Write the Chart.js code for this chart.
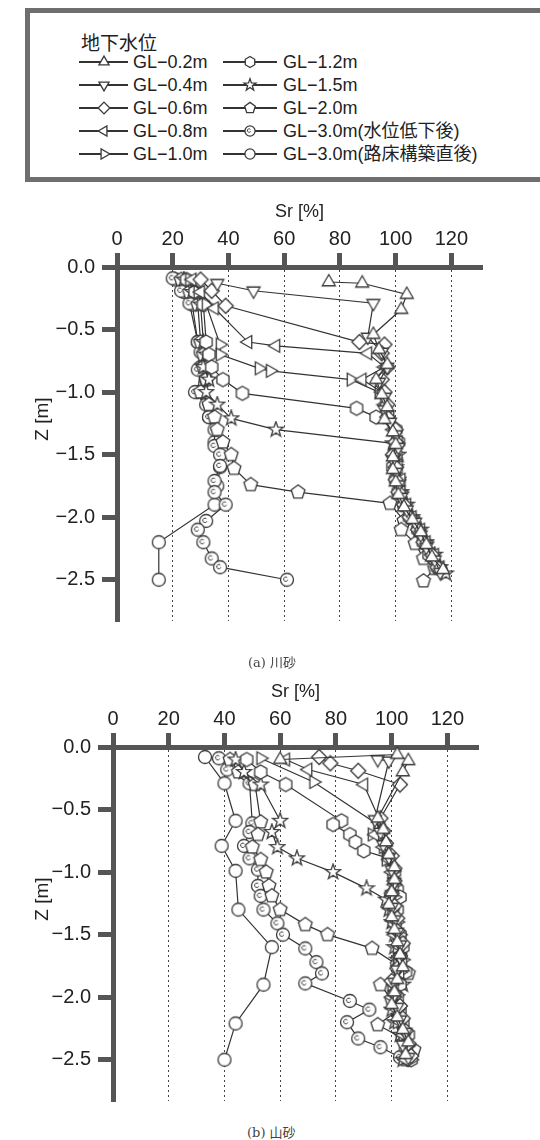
<!DOCTYPE html>
<html>
<head>
<meta charset="utf-8">
<script src="https://cdn.jsdelivr.net/npm/chart.js@4.4.1/dist/chart.umd.min.js"></script>
<style>
  body { margin: 0; width: 540px; height: 1140px; position: relative; overflow: hidden; background: #fff;
         font-family: "Liberation Sans", Arial, "Noto Sans CJK JP", sans-serif; color: #222; }
  #legend { position: absolute; left: 25px; top: 8px; width: 530px; height: 174px; box-sizing: border-box;
            border: 5px solid #6e6e6e; }
  .abs { position: absolute; white-space: nowrap; }
  .ltitle { font-size: 19px; }
  .ltext { font-size: 18px; line-height: 20px; }
  .lline { position: absolute; height: 1.4px; background: #333; }
  .ztitle { font-size: 19px; transform: rotate(-90deg); transform-origin: center; }
  .cap { font-size: 13px; color: #444; font-family: "DejaVu Serif", "Noto Sans CJK JP", serif; }
  canvas { position: absolute; left: 0; }
</style>
</head>
<body>
<div id="legend"></div>
<canvas id="kawa" width="540" height="455" style="top:185px"></canvas>
<canvas id="yama" width="540" height="455" style="top:665px"></canvas>
<div class="abs ztitle" style="left:20px; top:408px;">Z [m]</div>
<div class="abs ztitle" style="left:20px; top:888px;">Z [m]</div>
<div class="abs cap" style="left:248px; top:652px;">(a) 川砂</div>
<div class="abs cap" style="left:247px; top:1122px;">(b) 山砂</div>
<script>
// ground water levels (legend order)
const levels = ['GL−0.2m', 'GL−0.4m', 'GL−0.6m', 'GL−0.8m', 'GL−1.0m',
                'GL−1.2m', 'GL−1.5m', 'GL−2.0m', 'GL−3.0m(水位低下後)', 'GL−3.0m(路床構築直後)'];
const shapes = ['triUp', 'triDown', 'diamond', 'triLeft', 'triRight',
                'hexagon', 'star', 'pentagon', 'dotCircle', 'circle'];
const srTicks = [0, 20, 40, 60, 80, 100, 120];
const zTicks = [0, -0.5, -1.0, -1.5, -2.0, -2.5];

// (a) river sand : depth Z [m] and degree of saturation Sr [%]
const a02z = [-0.12, -0.13, -0.22, -0.34, -0.54, -0.66, -0.78, -0.90, -1.02, -1.12, -1.22, -1.32, -1.42, -1.52, -1.62, -1.72, -1.82, -1.92, -2.02, -2.12, -2.22, -2.32, -2.42];
const a02s = [76, 88, 104, 102, 92, 94, 97, 93, 95, 97, 96, 99, 100, 99, 99, 100, 101, 103, 106, 109, 111, 113, 117];
const a04z = [-0.13, -0.19, -0.29, -0.56, -0.68, -0.80, -0.92, -1.04, -1.14, -1.24, -1.34, -1.44, -1.54, -1.64, -1.74, -1.84, -1.94, -2.04, -2.14, -2.24, -2.34, -2.44];
const a04s = [36, 49, 92, 90, 95, 97, 94, 96, 96, 98, 100, 101, 99, 100, 101, 102, 104, 107, 109, 111, 114, 116];
const a06z = [-0.10, -0.19, -0.31, -0.60, -0.62, -0.69, -0.80, -0.90, -1.00, -1.10, -1.20, -1.30, -1.40, -1.50, -1.60, -1.70, -1.80, -1.90, -2.00, -2.10, -2.20, -2.30, -2.40];
const a06s = [30, 34, 39, 87, 96, 95, 97, 95, 96, 97, 97, 100, 100, 99, 100, 100, 101, 103, 105, 108, 110, 113, 115];
const a08z = [-0.10, -0.20, -0.33, -0.60, -0.63, -0.69, -0.80, -0.90, -1.00, -1.10, -1.20, -1.30, -1.40, -1.50, -1.60, -1.70, -1.80, -1.90, -2.00, -2.10, -2.20, -2.30, -2.40];
const a08s = [27, 30, 35, 47, 57, 90, 96, 88, 95, 96, 98, 99, 101, 100, 101, 102, 102, 104, 106, 109, 111, 114, 116];
const a10z = [-0.10, -0.20, -0.30, -0.62, -0.70, -0.81, -0.83, -0.90, -1.00, -1.10, -1.20, -1.30, -1.40, -1.50, -1.60, -1.70, -1.80, -1.90, -2.00, -2.10, -2.20, -2.30, -2.40];
const a10s = [26, 29, 32, 37, 37, 51, 55, 84, 94, 96, 97, 99, 100, 99, 100, 101, 102, 103, 106, 108, 111, 113, 115];
const a12z = [-0.10, -0.20, -0.30, -0.60, -0.70, -0.80, -0.90, -1.01, -1.13, -1.20, -1.30, -1.40, -1.50, -1.60, -1.70, -1.80, -1.90, -2.00, -2.10, -2.20, -2.30, -2.40];
const a12s = [25, 28, 31, 32, 33, 34, 38, 45, 86, 93, 100, 101, 100, 99, 100, 101, 103, 105, 108, 110, 112, 115];
const a15z = [-0.10, -0.20, -0.30, -0.60, -0.70, -0.80, -0.90, -1.00, -1.10, -1.21, -1.30, -1.41, -1.50, -1.60, -1.70, -1.80, -1.90, -2.00, -2.10, -2.20, -2.30, -2.40, -2.45];
const a15s = [24, 27, 30, 31, 32, 31, 33, 32, 36, 41, 57, 99, 101, 100, 101, 102, 104, 106, 109, 111, 114, 116, 118];
const a20z = [-0.10, -0.20, -0.30, -0.60, -0.70, -0.80, -0.90, -1.00, -1.10, -1.20, -1.30, -1.40, -1.50, -1.61, -1.74, -1.80, -1.89, -2.03, -2.10, -2.21, -2.33, -2.41, -2.51];
const a20s = [23, 26, 29, 30, 31, 31, 32, 30, 33, 35, 36, 38, 41, 42, 48, 65, 98, 103, 102, 107, 110, 114, 110];
const a30z = [-0.09, -0.19, -0.29, -0.60, -0.68, -0.82, -0.90, -1.00, -1.10, -1.20, -1.30, -1.43, -1.50, -1.59, -1.71, -1.80, -1.90, -2.03, -2.10, -2.20, -2.33, -2.40, -2.50];
const a30s = [20, 23, 26, 29, 30, 29, 32, 28, 32, 33, 35, 35, 37, 37, 35, 35, 39, 32, 29, 31, 34, 37, 61];
const a30cz = [-0.10, -0.20, -0.30, -0.60, -0.80, -1.00, -1.20, -1.40, -1.60, -1.75, -1.90, -2.20, -2.50];
const a30cs = [21, 24, 27, 29, 30, 29, 33, 35, 37, 36, 35, 15, 15];

// (b) mountain sand
const b02z = [-0.10, -0.06, -0.11, -0.20, -0.57, -0.66, -0.76, -0.86, -0.96, -1.06, -1.16, -1.26, -1.36, -1.46, -1.56, -1.66, -1.76, -1.86, -1.96, -2.06, -2.16, -2.26, -2.36, -2.46];
const b02s = [60, 102, 106, 104, 95, 97, 98, 99, 101, 101, 100, 99, 100, 101, 102, 103, 104, 102, 101, 100, 102, 104, 106, 105];
const b04z = [-0.10, -0.11, -0.58, -0.68, -0.78, -0.88, -0.98, -1.08, -1.18, -1.28, -1.38, -1.48, -1.58, -1.68, -1.78, -1.88, -1.98, -2.08, -2.18, -2.28, -2.38, -2.48];
const b04s = [95, 99, 94, 96, 97, 99, 100, 101, 100, 100, 101, 102, 103, 103, 102, 101, 101, 102, 103, 105, 104, 106];
const b06z = [-0.08, -0.13, -0.19, -0.30, -0.57, -0.67, -0.77, -0.87, -0.97, -1.07, -1.17, -1.27, -1.37, -1.47, -1.57, -1.67, -1.77, -1.87, -1.97, -2.07, -2.17, -2.27, -2.37, -2.47];
const b06s = [74, 78, 88, 103, 96, 97, 98, 100, 101, 101, 100, 101, 102, 102, 104, 103, 102, 100, 101, 103, 104, 105, 106, 107];
const b08z = [-0.10, -0.18, -0.30, -0.60, -0.70, -0.80, -0.90, -1.00, -1.10, -1.20, -1.30, -1.40, -1.50, -1.60, -1.70, -1.80, -1.90, -2.00, -2.10, -2.20, -2.30, -2.40, -2.50];
const b08s = [62, 70, 90, 96, 94, 97, 99, 100, 101, 100, 101, 102, 101, 103, 104, 103, 101, 100, 102, 103, 104, 106, 105];
const b10z = [-0.09, -0.28, -0.62, -0.70, -0.80, -0.90, -1.00, -1.10, -1.20, -1.30, -1.40, -1.50, -1.60, -1.70, -1.80, -1.90, -2.00, -2.10, -2.20, -2.30, -2.40, -2.50];
const b10s = [53, 72, 95, 93, 97, 98, 100, 101, 101, 100, 102, 103, 102, 104, 103, 100, 101, 102, 102, 104, 105, 107];
const b12z = [-0.10, -0.20, -0.30, -0.59, -0.62, -0.70, -0.76, -0.83, -0.89, -1.00, -1.14, -1.20, -1.30, -1.40, -1.50, -1.60, -1.70, -1.80, -1.90, -2.00, -2.10, -2.20, -2.30, -2.40, -2.50];
const b12s = [48, 53, 62, 82, 79, 85, 87, 90, 99, 101, 102, 103, 102, 101, 103, 104, 103, 105, 103, 102, 103, 104, 106, 105, 107];
const b15z = [-0.10, -0.20, -0.30, -0.59, -0.68, -0.80, -0.89, -1.00, -1.13, -1.22, -1.30, -1.40, -1.50, -1.60, -1.70, -1.80, -1.90, -2.00, -2.10, -2.20, -2.30, -2.40, -2.50];
const b15s = [44, 47, 53, 60, 57, 59, 66, 79, 91, 98, 99, 100, 101, 101, 102, 103, 104, 102, 100, 101, 103, 106, 104];
const b20z = [-0.10, -0.20, -0.30, -0.60, -0.70, -0.80, -0.90, -1.00, -1.11, -1.19, -1.30, -1.42, -1.50, -1.61, -1.74, -1.81, -1.90, -2.02, -2.11, -2.22, -2.33, -2.42, -2.50];
const b20s = [42, 45, 51, 53, 52, 50, 53, 55, 56, 57, 60, 69, 77, 93, 102, 106, 96, 100, 102, 95, 104, 108, 105];
const b30z = [-0.09, -0.18, -0.29, -0.61, -0.68, -0.79, -0.89, -0.98, -1.11, -1.19, -1.30, -1.41, -1.50, -1.61, -1.72, -1.81, -1.89, -2.03, -2.10, -2.20, -2.33, -2.40, -2.48];
const b30s = [38, 41, 49, 50, 49, 47, 49, 52, 52, 53, 54, 59, 61, 69, 73, 75, 69, 85, 92, 84, 88, 96, 103];
const b30cz = [-0.08, -0.29, -0.59, -0.79, -0.99, -1.30, -1.60, -1.90, -2.21, -2.50];
const b30cs = [33, 40, 44, 39, 44, 45, 57, 54, 44, 40];

Chart.defaults.font.family = '"Liberation Sans", Arial, sans-serif';
Chart.defaults.color = '#222';

// open markers drawn once and reused as point styles
function makeMarker(kind, k) {
  const c = document.createElement('canvas');
  c.width = c.height = 18;
  const g = c.getContext('2d');
  g.translate(9, 9);
  g.scale(k, k);
  g.lineWidth = 1.3 / k;
  g.strokeStyle = '#3a3a3a';
  g.fillStyle = '#fff';
  g.beginPath();
  const poly = (n, r, rot) => {
    for (let i = 0; i < n; i++) {
      const a = rot + i * 2 * Math.PI / n;
      g.lineTo(r * Math.cos(a), r * Math.sin(a));
    }
    g.closePath();
  };
  if (kind === 'triUp') poly(3, 7.5, -Math.PI / 2);
  else if (kind === 'triDown') poly(3, 7.5, Math.PI / 2);
  else if (kind === 'triLeft') poly(3, 7.5, Math.PI);
  else if (kind === 'triRight') poly(3, 7.5, 0);
  else if (kind === 'diamond') poly(4, 7.5, -Math.PI / 2);
  else if (kind === 'hexagon') poly(6, 7, -Math.PI / 2);
  else if (kind === 'pentagon') poly(5, 7.2, -Math.PI / 2);
  else if (kind === 'star') {
    for (let i = 0; i < 10; i++) {
      const r = i % 2 ? 3.2 : 8;
      const a = -Math.PI / 2 + i * Math.PI / 5;
      g.lineTo(r * Math.cos(a), r * Math.sin(a));
    }
    g.closePath();
  } else g.arc(0, 0, 6.5, 0, 2 * Math.PI);
  g.fill();
  g.stroke();
  if (kind === 'dotCircle') {
    g.beginPath();
    g.lineWidth = 1 / k;
    g.arc(-1.2, -0.6, 2.2, 0.4, 1.8 * Math.PI);
    g.stroke();
  }
  return c;
}
const markers = shapes.map(s => makeMarker(s, 1));
const keyMarkers = shapes.map(s => makeMarker(s, 0.78));

function series(i, zs, ss) {
  return {
    label: levels[i],
    data: zs.map((z, k) => ({ x: ss[k], y: z })),
    showLine: true,
    borderColor: '#333',
    borderWidth: 1.2,
    backgroundColor: '#fff',
    pointStyle: markers[i],
    pointRadius: 7,
    clip: 12
  };
}

const kawaSets = [
  series(0, a02z, a02s), series(1, a04z, a04s), series(2, a06z, a06s), series(3, a08z, a08s),
  series(4, a10z, a10s), series(5, a12z, a12s), series(6, a15z, a15s), series(7, a20z, a20s),
  series(8, a30z, a30s), series(9, a30cz, a30cs)
];
const yamaSets = [
  series(0, b02z, b02s), series(1, b04z, b04s), series(2, b06z, b06s), series(3, b08z, b08s),
  series(4, b10z, b10s), series(5, b12z, b12s), series(6, b15z, b15s), series(7, b20z, b20s),
  series(8, b30z, b30s), series(9, b30cz, b30cs)
];

function makeChart(id, sets, box) {
  return new Chart(document.getElementById(id), {
    type: 'scatter',
    data: { datasets: sets },
    options: {
      responsive: false,
      animation: false,
      events: [],
      layout: { padding: { left: 0, top: 0, right: box.right, bottom: box.bottom } },
      plugins: { legend: { display: false }, tooltip: { enabled: false } },
      scales: {
        x: {
          type: 'linear', position: 'top', min: 0, max: 131,
          afterBuildTicks: s => { s.ticks = srTicks.map(v => ({ value: v })); },
          afterFit: s => { s.height = box.top; },
          ticks: { font: { size: 20 }, color: '#222', padding: 2, maxRotation: 0 },
          grid: {
            color: c => (c.tick && c.tick.value === 0) ? 'rgba(0,0,0,0)' : '#444',
            lineWidth: 1, tickLength: 14, tickWidth: 5, tickColor: '#555'
          },
          border: { display: true, width: 5, color: '#555', dash: [2, 3] },
          title: { display: true, text: 'Sr [%]', font: { size: 18 }, color: '#222', padding: { top: 16, bottom: 0 } }
        },
        y: {
          type: 'linear', position: 'left', min: -2.83, max: 0,
          afterBuildTicks: s => { s.ticks = zTicks.map(v => ({ value: v })); },
          afterFit: s => { s.width = box.left; },
          ticks: {
            font: { size: 20 }, color: '#222', padding: 7,
            callback: v => v.toFixed(1).replace('-', '−')
          },
          grid: { drawOnChartArea: false, tickLength: 15, tickWidth: 5, tickColor: '#555' },
          border: { display: true, width: 5, color: '#555' }
        }
      }
    }
  });
}

makeChart('kawa', kawaSets, { left: 117, top: 82, right: 58, bottom: 7 });
makeChart('yama', yamaSets, { left: 113, top: 82, right: 62, bottom: 8 });

// legend box: title then two columns of line + marker + label
const page = document.body;
const t = document.createElement('div');
t.className = 'abs ltitle';
t.style.left = '81px';
t.style.top = '28px';
t.textContent = '地下水位';
page.appendChild(t);
const rowY = [62, 85, 108, 131, 154];
levels.forEach((name, i) => {
  const col = i < 5 ? 0 : 1;
  const cy = rowY[i % 5];
  const x0 = col ? 223 : 79, x1 = col ? 277 : 128, tx = col ? 283 : 133;
  const line = document.createElement('div');
  line.className = 'lline';
  line.style.left = x0 + 'px';
  line.style.width = (x1 - x0) + 'px';
  line.style.top = (cy - 0.7) + 'px';
  page.appendChild(line);
  const img = document.createElement('img');
  img.src = keyMarkers[i].toDataURL();
  img.className = 'abs';
  img.style.left = ((x0 + x1) / 2 - 9) + 'px';
  img.style.top = (cy - 9) + 'px';
  page.appendChild(img);
  const lab = document.createElement('div');
  lab.className = 'abs ltext';
  lab.style.left = tx + 'px';
  lab.style.top = (cy - 10) + 'px';
  lab.textContent = name;
  page.appendChild(lab);
});
</script>
</body>
</html>
